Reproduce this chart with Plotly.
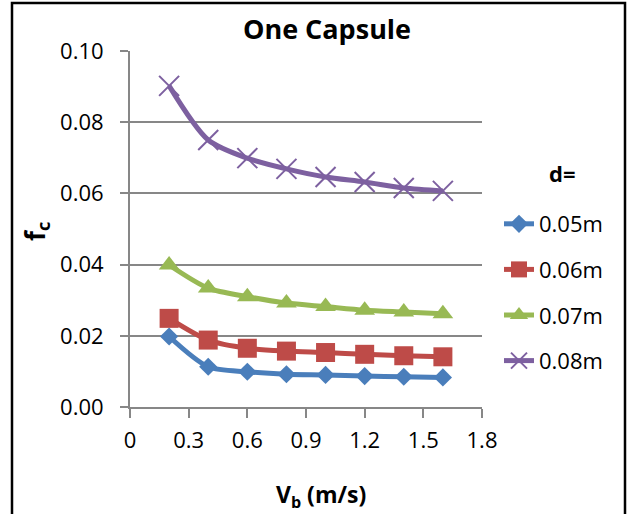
import plotly.graph_objects as go

vb = [0.2, 0.4, 0.6, 0.8, 1.0, 1.2, 1.4, 1.6]
fc_005 = [0.0198, 0.0113, 0.0099, 0.0092, 0.0090, 0.0087, 0.0085, 0.0083]
fc_006 = [0.0249, 0.0188, 0.0165, 0.0157, 0.0153, 0.0148, 0.0144, 0.0141]
fc_007 = [0.0399, 0.0334, 0.0310, 0.0292, 0.0282, 0.0272, 0.0267, 0.0262]
fc_008 = [0.0902, 0.0750, 0.0699, 0.0669, 0.0646, 0.0632, 0.0615, 0.0607]
series_names = ["0.05m", "0.06m", "0.07m", "0.08m"]
colors = ["#4A7EBB", "#BE4B48", "#98B954", "#7D60A0"]
symbols = ["diamond", "square", "triangle-up", "x-thin"]
sizes = [14, 19, 18, 20]

FONT = "Open Sans"
W, H = 629, 514
L, R, T, B = 130, 147, 51, 107
pw, ph = W - L - R, H - T - B

def px(x):
    return (x - L) / pw

def py(y):
    return (H - B - y) / ph

fig = go.Figure()
for name, ys, c, s, sz in zip(series_names, [fc_005, fc_006, fc_007, fc_008], colors, symbols, sizes):
    marker = dict(symbol=s, size=sz, color=c)
    if s == "x-thin":
        marker["line"] = dict(color=c, width=2)
    else:
        marker["line"] = dict(color=c, width=0)
    fig.add_trace(go.Scatter(
        x=vb, y=ys, name=name, mode="lines+markers",
        line=dict(color=c, width=5, shape="spline", smoothing=0.8),
        marker=marker, legendgroup=name,
    ))

grid = "#878787"
fig.update_layout(
    width=W, height=H,
    margin=dict(l=L, r=R, t=T, b=B),
    paper_bgcolor="white", plot_bgcolor="white",
    font=dict(family=FONT, size=22, color="black"),
    title=dict(text="<b>One Capsule</b>", font=dict(family=FONT, size=27, color="black"),
               x=327 / W, xref="container", xanchor="center",
               y=1 - 30 / H, yref="container", yanchor="middle"),
    xaxis=dict(range=[0, 1.8], dtick=0.3, tick0=0, showgrid=False, zeroline=False,
               showline=True, linecolor=grid, linewidth=2,
               ticks="outside", ticklen=9, tickwidth=2, tickcolor=grid,
               ticklabelstandoff=4, tickfont=dict(size=22)),
    yaxis=dict(range=[0, 0.1], dtick=0.02, tick0=0, tickformat=".2f",
               showgrid=True, gridcolor=grid, gridwidth=2, zeroline=False,
               showline=True, linecolor=grid, linewidth=2,
               ticks="outside", ticklen=8, tickwidth=2, tickcolor=grid,
               ticklabelstandoff=12, tickfont=dict(size=22)),
    legend=dict(x=px(499), y=py(203), xanchor="left", yanchor="top",
                font=dict(size=22), tracegroupgap=14, bgcolor="rgba(0,0,0,0)"),
    showlegend=True,
)

fig.add_annotation(text="<b>d=</b>", xref="paper", yref="paper",
                   x=px(562), y=py(173), showarrow=False, font=dict(size=22),
                   xanchor="center", yanchor="middle")
fig.add_annotation(text="<b>V<sub>b</sub> (m/s)</b>", xref="paper", yref="paper",
                   x=px(321), y=py(495), showarrow=False, font=dict(size=23),
                   xanchor="center", yanchor="middle")
fig.add_annotation(text="<b>f<sub>c</sub></b>", xref="paper", yref="paper",
                   x=px(36), y=py(232), showarrow=False, font=dict(size=26),
                   textangle=-90, xanchor="center", yanchor="middle")

fig.add_shape(type="rect", xref="paper", yref="paper",
              x0=px(12), x1=px(625), y0=py(560), y1=py(3),
              line=dict(color="black", width=2.5), fillcolor="rgba(0,0,0,0)", layer="below")

fig.write_html("out.html")
